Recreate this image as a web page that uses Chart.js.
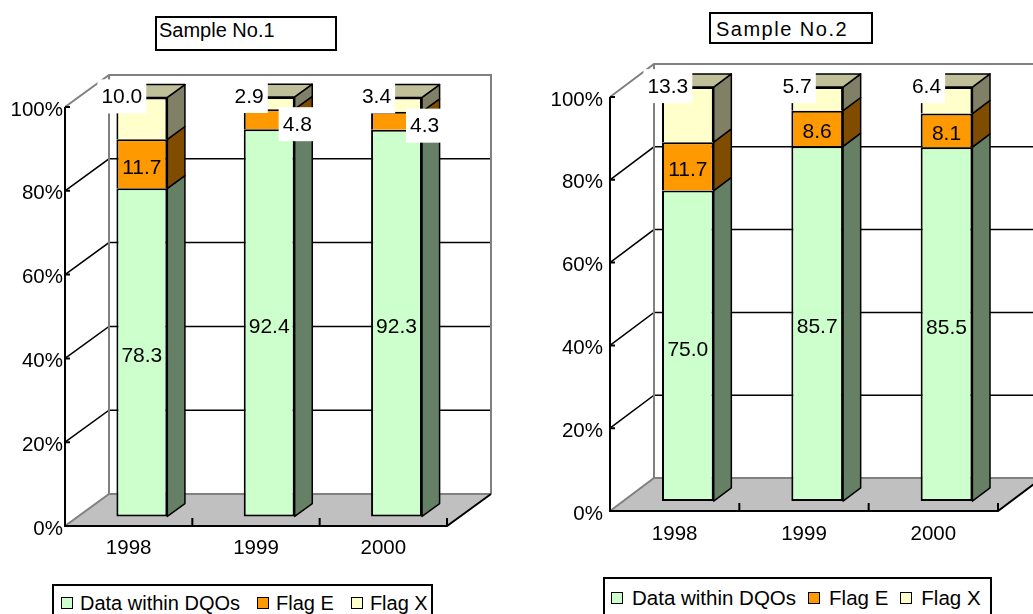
<!DOCTYPE html>
<html>
<head>
<meta charset="utf-8">
<title>Data quality by year</title>
<script src="https://cdn.jsdelivr.net/npm/chart.js@4/dist/chart.umd.min.js"></script>
<style>
  body { margin: 0; background: #fff; font-family: "Liberation Sans", Arial, sans-serif; }
  #page { position: relative; width: 1033px; height: 614px; overflow: hidden; }
  canvas { position: absolute; top: 0; }
  .title { position: absolute; box-sizing: border-box; border: 2px solid #000; background: #fff;
           font-size: 20px; line-height: 20px; white-space: nowrap; }
  .legend { position: absolute; box-sizing: border-box; border: 2px solid #000; background: #fff;
            display: flex; align-items: center; white-space: nowrap; }
  .legend .item { display: flex; align-items: center; }
  .legend .swatch { width: 12px; height: 12px; box-sizing: border-box; border: 1.5px solid #000; }
</style>
</head>
<body>
<div id="page">
  <canvas id="chart1" width="517" height="614" style="left:0"></canvas>
  <canvas id="chart2" width="516" height="614" style="left:517px"></canvas>
  <div class="title" style="left:155px;top:16px;width:182px;height:35px;padding:2px 0 0 2px">Sample No.1</div>
  <div class="title" style="left:709px;top:12px;width:164px;height:32px;padding:5px 0 0 5px;letter-spacing:1.5px">Sample No.2</div>
  <div class="legend" id="legend1" style="left:52px;top:584px;width:381px;height:38px;padding-left:7px;font-size:20px"></div>
  <div class="legend" id="legend2" style="left:603px;top:577px;width:389px;height:42px;padding-left:6px;font-size:20.5px"></div>
</div>
<script>
// categories and values (percent of samples)
const years = ['1998', '1999', '2000'];
const seriesNames = ['Data within DQOs', 'Flag E', 'Flag X'];

const sample1Within = [78.3, 92.4, 92.3];
const sample1FlagE = [11.7, 4.8, 4.3];
const sample1FlagX = [10.0, 2.9, 3.4];

const sample2Within = [75.0, 85.7, 85.5];
const sample2FlagE = [11.7, 8.6, 8.1];
const sample2FlagX = [13.3, 5.7, 6.4];

const percentMin = 0;
const percentMax = 100;
const percentStep = 20;

// front / side / top shades for each series
const frontColors = ['#ccffcc', '#ff9900', '#ffffcc'];
const sideColors = ['#668066', '#804d00', '#808066'];
const topColors = ['#99bf99', '#bf7300', '#bfbf99'];

const FONT_FAMILY = '"Liberation Sans", Arial, sans-serif';

function polygon(ctx, pts, fill) {
  ctx.beginPath();
  ctx.moveTo(pts[0][0], pts[0][1]);
  for (let k = 1; k < pts.length; k++) ctx.lineTo(pts[k][0], pts[k][1]);
  ctx.closePath();
  ctx.fillStyle = fill;
  ctx.fill();
  ctx.stroke();
}

function boxedLabel(ctx, text, cx, cy) {
  const w = ctx.measureText(text).width;
  ctx.fillStyle = '#fff';
  ctx.fillRect(cx - w / 2 - 4, cy - 18, w + 8, 34);
  ctx.fillStyle = '#000';
  ctx.fillText(text, cx, cy);
}

// draws walls, floor and gridlines in perspective, then gives the bars depth
const depth3d = {
  id: 'depth3d',
  beforeDatasetsDraw(chart, args, opts) {
    const { ctx, chartArea: a, scales: { x, y } } = chart;
    const { dx, dy } = opts;
    ctx.save();

    // floor
    ctx.fillStyle = '#c0c0c0';
    ctx.beginPath();
    ctx.moveTo(a.left, a.bottom);
    ctx.lineTo(a.right, a.bottom);
    ctx.lineTo(a.right + dx, a.bottom + dy);
    ctx.lineTo(a.left + dx, a.bottom + dy);
    ctx.closePath();
    ctx.fill();

    // gridlines across the side wall and back wall
    ctx.strokeStyle = '#000';
    ctx.lineWidth = 1.5;
    y.ticks.forEach(t => {
      if (t.value <= y.min || t.value >= y.max) return;
      const py = y.getPixelForValue(t.value);
      ctx.beginPath();
      ctx.moveTo(a.left, py);
      ctx.lineTo(a.left + dx, py + dy);
      ctx.lineTo(a.right + dx, py + dy);
      ctx.stroke();
    });

    // wall outlines
    ctx.strokeStyle = '#808080';
    ctx.lineWidth = 2;
    ctx.beginPath();
    ctx.moveTo(a.left, a.bottom);
    ctx.lineTo(a.left + dx, a.bottom + dy);
    ctx.lineTo(a.right + dx, a.bottom + dy);
    ctx.moveTo(a.left, a.top);
    ctx.lineTo(a.left + dx, a.top + dy);
    ctx.lineTo(a.right + dx, a.top + dy);
    ctx.lineTo(a.right + dx, a.bottom + dy);
    ctx.moveTo(a.left + dx, a.top + dy);
    ctx.lineTo(a.left + dx, a.bottom + dy);
    ctx.stroke();

    // value axis, category axis and the right edge of the floor
    ctx.strokeStyle = '#000';
    ctx.lineWidth = 2;
    ctx.beginPath();
    ctx.moveTo(a.left, a.top);
    ctx.lineTo(a.left, a.bottom);
    ctx.lineTo(a.right, a.bottom);
    ctx.lineTo(a.right + dx, a.bottom + dy);
    y.ticks.forEach(t => {
      const py = y.getPixelForValue(t.value);
      ctx.moveTo(a.left, py);
      ctx.lineTo(a.left + 5, py);
    });
    const half = (x.getPixelForValue(1) - x.getPixelForValue(0)) / 2;
    for (let i = 0; i <= chart.data.labels.length; i++) {
      const px = x.getPixelForValue(i) - half;
      ctx.moveTo(px, a.bottom);
      ctx.lineTo(px, a.bottom - 8);
    }
    ctx.stroke();
    ctx.restore();

    // bars stand in the middle of the floor's depth
    ctx.save();
    ctx.translate(dx * 0.3, dy * 0.3);
  },
  afterDatasetsDraw(chart, args, opts) {
    const { ctx } = chart;
    const bx = opts.dx * 0.4, by = opts.dy * 0.4;
    ctx.strokeStyle = '#000';
    ctx.lineWidth = 1.5;
    ctx.lineJoin = 'round';
    chart.data.labels.forEach((lbl, i) => {
      let topFace = null;
      chart.data.datasets.forEach((ds, d) => {
        const el = chart.getDatasetMeta(d).data[i];
        const { x, y, base, width } = el.getProps(['x', 'y', 'base', 'width'], true);
        const r = x + width / 2;
        const top = Math.min(y, base), bot = Math.max(y, base);
        polygon(ctx, [[r, top], [r + bx, top + by], [r + bx, bot + by], [r, bot]], ds.sideColor);
        if (!topFace || top < topFace.top) topFace = { l: x - width / 2, r, top, color: ds.topColor };
      });
      const f = topFace;
      polygon(ctx, [[f.l, f.top], [f.l + bx, f.top + by], [f.r + bx, f.top + by], [f.r, f.top]], f.color);
    });
    ctx.restore();

    // value labels
    const sx = opts.dx * 0.3, sy = opts.dy * 0.3;
    ctx.save();
    ctx.font = '21px ' + FONT_FAMILY;
    ctx.textAlign = 'center';
    ctx.textBaseline = 'middle';
    chart.data.datasets.forEach((ds, d) => {
      chart.getDatasetMeta(d).data.forEach((el, i) => {
        const { x, y, base, width } = el.getProps(['x', 'y', 'base', 'width'], true);
        const text = ds.data[i].toFixed(1);
        const cx = x + sx;
        const top = Math.min(y, base) + sy, bot = Math.max(y, base) + sy;
        ctx.fillStyle = '#000';
        if (ds.labelPlace === 'above') {
          boxedLabel(ctx, text, cx - 20, top);
        } else if (bot - top < 25) {
          const w = ctx.measureText(text).width;
          boxedLabel(ctx, text, cx + width / 2 - 12 + w / 2, (top + bot) / 2 + 6);
        } else {
          ctx.fillText(text, cx, (top + bot) / 2 + 4);
        }
      });
    });
    ctx.restore();
  }
};

function makeDatasets(within, flagE, flagX) {
  return [within, flagE, flagX].map((values, d) => ({
    label: seriesNames[d],
    data: values,
    backgroundColor: frontColors[d],
    borderColor: '#000',
    borderWidth: 2,
    borderSkipped: d === 0 ? false : 'start',
    sideColor: sideColors[d],
    topColor: topColors[d],
    labelPlace: d === 2 ? 'above' : 'inside',
    barPercentage: 0.4,
    categoryPercentage: 1,
    clip: false
  }));
}

function makePanel(canvasId, datasets, geo) {
  return new Chart(document.getElementById(canvasId), {
    type: 'bar',
    data: { labels: years, datasets },
    plugins: [depth3d],
    options: {
      responsive: false,
      animation: false,
      events: [],
      layout: { padding: { top: geo.top, right: geo.right, left: 0, bottom: 0 } },
      plugins: {
        legend: { display: false },
        tooltip: { enabled: false },
        depth3d: { dx: geo.dx, dy: geo.dy }
      },
      scales: {
        x: {
          stacked: true,
          grid: { display: false, drawTicks: false },
          border: { display: false },
          ticks: { color: '#000', padding: geo.xPad, font: { size: 20.5, family: FONT_FAMILY } },
          afterFit: s => { s.height = geo.xHeight; }
        },
        y: {
          stacked: true,
          min: percentMin,
          max: percentMax,
          grid: { display: false, drawTicks: false },
          border: { display: false },
          ticks: {
            stepSize: percentStep,
            color: '#000',
            padding: geo.yPad,
            labelOffset: 3,
            font: { size: 20.5, family: FONT_FAMILY },
            callback: v => v + '%'
          },
          afterFit: s => { s.width = geo.yWidth; }
        }
      }
    }
  });
}

function buildLegend(id, swatchGap, itemGap) {
  const box = document.getElementById(id);
  seriesNames.forEach((name, d) => {
    const item = document.createElement('div');
    item.className = 'item';
    item.style.marginRight = itemGap + 'px';
    const sw = document.createElement('span');
    sw.className = 'swatch';
    sw.style.background = frontColors[d];
    sw.style.marginRight = swatchGap + 'px';
    const txt = document.createElement('span');
    txt.textContent = name;
    item.appendChild(sw);
    item.appendChild(txt);
    box.appendChild(item);
  });
}

makePanel('chart1', makeDatasets(sample1Within, sample1FlagE, sample1FlagX),
  { top: 107, right: 70, xHeight: 88, yWidth: 65, xPad: 10, yPad: 2, dx: 44, dy: -32 });
makePanel('chart2', makeDatasets(sample2Within, sample2FlagE, sample2FlagX),
  { top: 97, right: 35, xHeight: 103, yWidth: 93, xPad: 11, yPad: 7, dx: 44, dy: -33 });

buildLegend('legend1', 7, 17);
buildLegend('legend2', 9, 12);
</script>
</body>
</html>
